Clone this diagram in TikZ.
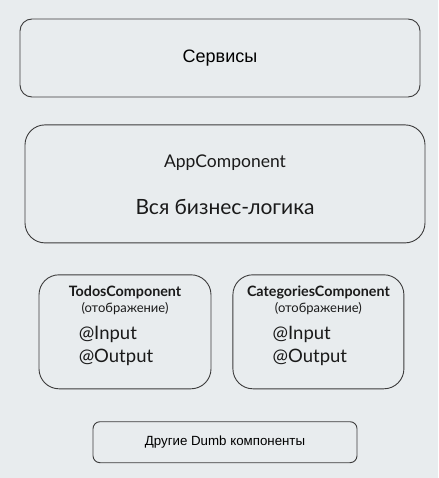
\documentclass[tikz,border=0pt]{standalone}
\usepackage{fontspec}
\setmainfont{Lato}
\newfontfamily\arialfont{Liberation Sans}
\usetikzlibrary{positioning}
\definecolor{bgcol}{HTML}{E8ECEE}
\definecolor{edgecol}{HTML}{3C3C3C}
\definecolor{txtcol}{HTML}{1A1A1A}

\begin{document}
\begin{tikzpicture}[
      x=1pt, y=1pt,
      node distance=27pt,
      box/.style={
          rectangle,
          draw=edgecol,
          line width=0.9pt,
          rounded corners=#1,
          inner sep=0pt
        },
      box/.default=20pt,
      label-big/.style={
          inner sep=0pt,
          text=txtcol,
          font=\fontsize{17.5}{20}\selectfont
        },
      label-head/.style={
          inner sep=0pt,
          text=txtcol,
          font=\bfseries\fontsize{14.3}{17}\selectfont
        },
      label-sub/.style={
          inner sep=0pt,
          text=txtcol,
          font=\fontsize{13}{15}\selectfont
        },
      label-io/.style={
          inner sep=0pt,
          text=txtcol,
          align=left,
          anchor=west,
          font=\fontsize{18.5}{23}\selectfont
        }
    ]

    % Background
    \fill[bgcol] (0,0) rectangle (438,-478);
    \useasboundingbox (0,0) rectangle (438,-478);

    % Boxes
    \node[box=12pt, minimum width=400pt, minimum height=78pt] (servisy) at (220,-58)
      {\arialfont\fontsize{18}{21}\selectfont Сервисы};
    \node[box, minimum width=400pt, minimum height=118pt, below=27pt of servisy, xshift=5pt] (app) {};
    \node[box, minimum width=172pt, minimum height=114pt, below=31pt of app, xshift=-100pt] (todos) {};
    \node[box, minimum width=171pt, minimum height=114pt, right=21pt of todos] (cats) {};
    \node[box=7pt, minimum width=264pt, minimum height=41pt, below=32pt of todos, xshift=100pt] (dumb)
      {\arialfont\fontsize{13.3}{16}\selectfont Другие Dumb компоненты};

    % Texts
    \node[label-big] (appname) at ([yshift=21pt]app.center) {AppComponent};
    \node[label-big, font=\fontsize{21}{24}\selectfont] (applogic) at ([yshift=-23pt]app.center) {Вся бизнес-логика};

    \node[label-head] (todosname) at ([yshift=-18pt]todos.north) {TodosComponent};
    \node[label-sub] (todosview) at ([yshift=-34pt]todos.north) {(отображение)};
    \node[label-io] (todosio) at ([xshift=40pt, yshift=-71.5pt]todos.north west) {@Input\\@Output};

    \node[label-head] (catsname) at ([yshift=-18pt]cats.north) {CategoriesComponent};
    \node[label-sub] (catsview) at ([yshift=-34pt]cats.north) {(отображение)};
    \node[label-io] (catsio) at ([xshift=40pt, yshift=-71.5pt]cats.north west) {@Input\\@Output};

  \end{tikzpicture}
\end{document}
